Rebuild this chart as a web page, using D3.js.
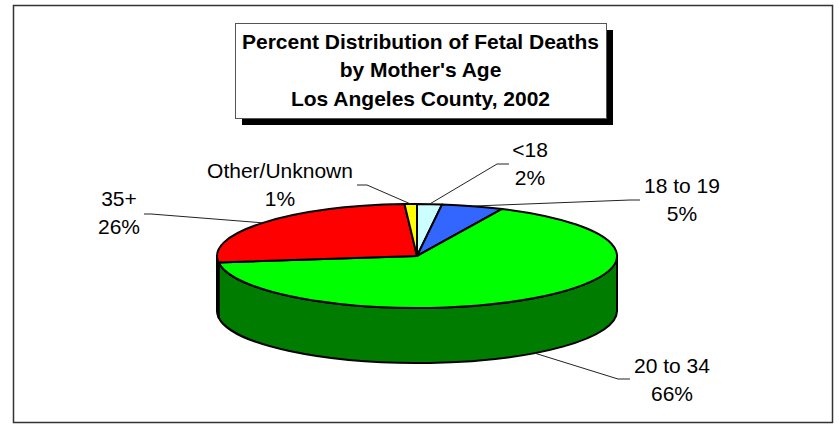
<!DOCTYPE html>
<html>
<head>
<meta charset="utf-8">
<script src="https://cdn.jsdelivr.net/npm/d3@7"></script>
<style>
  html, body { margin: 0; padding: 0; background: #fff; }
  svg { display: block; font-family: "Liberation Sans", Arial, sans-serif; }
</style>
</head>
<body>
<svg id="chart" width="839" height="424"></svg>
<script>
'use strict';

// chart data
var categories = ["<18", "18 to 19", "20 to 34", "35+", "Other/Unknown"];
var percents = [2, 5, 66, 26, 1];
var sliceColors = ["#CCFFFF", "#3366FF", "#00FF00", "#FF0000", "#FFFF00"];
var titleLines = ["Percent Distribution of Fetal Deaths", "by Mother's Age", "Los Angeles County, 2002"];

// label placement: text centre x, first baseline y, elbow of leader, end of leader
var labelLayout = [
  { x: 530, y: 157, elbow: [497, 164], end: [509, 164] },
  { x: 682, y: 193, elbow: [630, 200], end: [640, 200] },
  { x: 672, y: 373, elbow: [618, 379], end: [630, 379] },
  { x: 119, y: 206, elbow: [151, 214], end: [144, 214] },
  { x: 280, y: 178, elbow: [367, 185], end: [357, 185] }
];

var pie3d = { cx: 417, cy: 256, rx: 200, ry: 52, depth: 55 };

var svg = d3.select("#chart");

// outer frame
svg.append("rect")
  .attr("x", 13.5).attr("y", 5.5)
  .attr("width", 819).attr("height", 417)
  .attr("fill", "#fff")
  .attr("stroke", "#333").attr("stroke-width", 1.5);

// title box with drop shadow
var tb = { x: 235, y: 23, w: 371, h: 95, shadow: 7 };
svg.append("rect")
  .attr("x", tb.x + tb.shadow).attr("y", tb.y + tb.shadow)
  .attr("width", tb.w).attr("height", tb.h)
  .attr("fill", "#000");
svg.append("rect")
  .attr("x", tb.x + 0.5).attr("y", tb.y + 0.5)
  .attr("width", tb.w).attr("height", tb.h)
  .attr("fill", "#fff")
  .attr("stroke", "#555").attr("stroke-width", 1);

svg.append("g")
  .selectAll("text")
  .data(titleLines)
  .join("text")
    .attr("x", tb.x + tb.w / 2)
    .attr("y", function(d, i) { return 49 + i * 28.3; })
    .attr("text-anchor", "middle")
    .attr("font-size", "21px")
    .attr("font-weight", "bold")
    .attr("fill", "#000")
    .text(function(d) { return d; });

// pie
var data = categories.map(function(c, i) {
  return { name: c, value: percents[i], color: sliceColors[i] };
});

var arcs = d3.pie()
  .sort(null)
  .value(function(d) { return d.value; })(data);

var pointAt = function pointAt(theta, dy) {
  return [pie3d.cx + pie3d.rx * Math.sin(theta),
          pie3d.cy - pie3d.ry * Math.cos(theta) + (dy || 0)];
};

var sidePath = function sidePath(a) {
  var s = Math.max(a.startAngle, Math.PI / 2);
  var e = Math.min(a.endAngle, 3 * Math.PI / 2);
  if (s >= e) return null;
  var p0 = pointAt(s), p1 = pointAt(e);
  var q1 = pointAt(e, pie3d.depth), q0 = pointAt(s, pie3d.depth);
  var r = pie3d.rx + "," + pie3d.ry;
  return "M" + p0
       + "A" + r + " 0 0 1 " + p1
       + "L" + q1
       + "A" + r + " 0 0 0 " + q0
       + "Z";
};

// side walls (front half only)
svg.append("g")
  .selectAll("path")
  .data(arcs.filter(function(a) { return sidePath(a) !== null; }))
  .join("path")
    .attr("d", sidePath)
    .attr("fill", function(a) { return d3.color(a.data.color).darker(2).formatHex(); })
    .attr("stroke", "#000")
    .attr("stroke-width", 2)
    .attr("stroke-linejoin", "round");

// top faces: circular arcs squashed into the ellipse
var arcGen = d3.arc().innerRadius(0).outerRadius(pie3d.rx);
svg.append("g")
  .attr("transform", "translate(" + pie3d.cx + "," + pie3d.cy + ") scale(1," + (pie3d.ry / pie3d.rx) + ")")
  .selectAll("path")
  .data(arcs)
  .join("path")
    .attr("d", arcGen)
    .attr("fill", function(a) { return a.data.color; })
    .attr("stroke", "#000")
    .attr("stroke-width", 2)
    .attr("stroke-linejoin", "round")
    .attr("vector-effect", "non-scaling-stroke");

// leader lines
var anchorOf = function anchorOf(a) {
  var mid = (a.startAngle + a.endAngle) / 2;
  var front = Math.cos(mid) < 0;
  return pointAt(mid, front ? pie3d.depth : 0);
};

svg.append("g")
  .selectAll("polyline")
  .data(arcs)
  .join("polyline")
    .attr("points", function(a, i) {
      var l = labelLayout[i];
      return [anchorOf(a), l.elbow, l.end].join(" ");
    })
    .attr("fill", "none")
    .attr("stroke", "#222")
    .attr("stroke-width", 1);

// labels
var labels = svg.append("g")
  .selectAll("text")
  .data(arcs)
  .join("text")
    .attr("text-anchor", "middle")
    .attr("font-size", "21px")
    .attr("fill", "#000");

labels.append("tspan")
  .attr("x", function(a, i) { return labelLayout[i].x; })
  .attr("y", function(a, i) { return labelLayout[i].y; })
  .text(function(a) { return a.data.name; });

labels.append("tspan")
  .attr("x", function(a, i) { return labelLayout[i].x; })
  .attr("y", function(a, i) { return labelLayout[i].y + 27.5; })
  .text(function(a) { return d3.format(".0f")(a.data.value) + "%"; });
</script>
</body>
</html>
